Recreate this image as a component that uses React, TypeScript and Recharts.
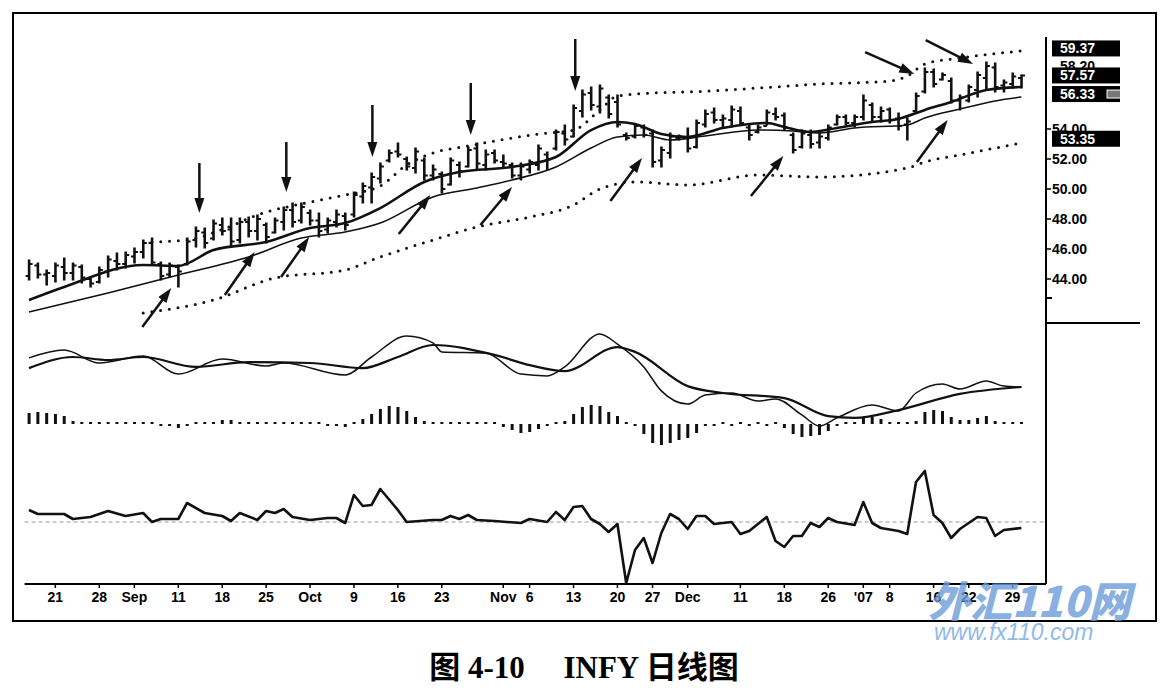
import React from 'react';
import { ComposedChart, Bar, Line, XAxis, YAxis, ReferenceLine } from 'recharts';

// INFY daily bars, 16 Aug 2006 .. 30 Jan 2007
const highs = [
  45.27, 45.07, 44.6, 45.07, 45.4, 45.07, 44.93, 44.07, 44.8, 45.53,
  45.73, 45.8, 46.07, 46.6, 46.73, 45.13, 45.07, 44.93, 46.73, 47.47,
  47.4, 47.93, 48.07, 48.07, 48.07, 48.13, 48.27, 47.73, 48.07, 48.8,
  49.07, 49.07, 48.6, 48.4, 48.07, 48.6, 48.4, 49.8, 50.4, 51.07,
  51.73, 52.6, 53.07, 52.13, 52.73, 52.07, 51.6, 51.13, 52.07, 51.8,
  52.8, 53.07, 52.6, 52.6, 52.27, 51.73, 51.73, 51.93, 52.93, 52.47,
  53.93, 54.27, 55.6, 56.6, 56.8, 56.93, 56.27, 56.27, 53.73, 54.27,
  54.27, 53.93, 52.8, 53.73, 53.6, 54.07, 54.6, 55.27, 55.4, 54.93,
  55.53, 55.47, 54.27, 54.27, 55.27, 55.4, 55.07, 53.73, 53.93, 53.93,
  53.8, 54.27, 54.93, 54.93, 54.93, 56.27, 55.73, 55.47, 55.4, 55.07,
  54.73, 56.4, 58.07, 58.0, 57.73, 57.4, 56.27, 56.93, 57.8, 58.47,
  58.4, 57.27, 57.73, 57.6,
];
const lows = [
  43.93, 44.07, 43.6, 43.8, 43.93, 43.93, 43.73, 43.47, 43.73, 44.13,
  44.6, 44.73, 45.07, 45.4, 44.93, 43.93, 44.13, 43.47, 44.93, 46.13,
  46.07, 46.6, 46.93, 46.13, 46.4, 46.8, 46.6, 46.4, 47.07, 47.27,
  47.47, 47.73, 47.6, 46.8, 47.07, 47.47, 47.27, 48.13, 49.07, 49.07,
  50.4, 51.8, 52.13, 51.27, 51.07, 50.6, 50.6, 49.73, 50.27, 50.8,
  51.47, 51.27, 51.27, 51.73, 51.47, 50.73, 50.6, 51.07, 51.27, 51.27,
  52.6, 52.93, 53.47, 54.8, 55.27, 55.07, 54.73, 54.13, 53.27, 53.4,
  53.47, 51.47, 51.47, 52.07, 53.27, 52.47, 52.73, 54.13, 54.4, 54.13,
  54.13, 54.27, 53.27, 53.73, 54.27, 54.6, 53.93, 52.4, 52.73, 52.73,
  52.73, 53.27, 54.27, 54.27, 54.13, 54.6, 54.47, 54.47, 54.4, 53.93,
  53.27, 55.07, 56.4, 56.8, 57.27, 55.73, 55.27, 55.8, 56.13, 56.6,
  56.47, 56.47, 56.73, 56.73,
];
const opens = [
  44.2, 44.9, 44.3, 44.2, 44.8, 44.4, 44.8, 44.0, 43.8, 44.5,
  45.2, 45.0, 45.5, 45.8, 46.4, 45.0, 44.3, 44.8, 45.0, 46.6,
  47.1, 46.7, 47.6, 47.3, 46.6, 47.8, 47.2, 47.6, 47.1, 47.8,
  48.6, 47.9, 48.4, 47.9, 47.3, 47.8, 48.2, 48.3, 49.5, 50.1,
  50.7, 51.9, 52.5, 52.0, 51.4, 51.9, 50.9, 51.0, 50.3, 51.6,
  51.5, 52.7, 51.6, 52.4, 51.8, 51.6, 50.9, 51.3, 51.6, 52.3,
  52.7, 53.7, 53.5, 55.2, 56.4, 55.5, 56.1, 55.8, 53.6, 53.5,
  54.1, 53.7, 51.9, 52.4, 53.4, 53.4, 52.8, 54.3, 55.1, 54.6,
  54.6, 55.2, 54.1, 53.8, 54.2, 55.0, 54.9, 53.6, 52.8, 53.6,
  53.1, 53.4, 54.3, 54.8, 54.4, 54.8, 55.6, 54.8, 55.3, 54.7,
  54.3, 55.2, 56.5, 57.8, 57.3, 57.2, 55.9, 55.9, 56.6, 57.4,
  58.1, 56.9, 57.0, 57.4,
];
const closes = [
  45.0, 44.3, 44.4, 44.9, 44.4, 44.9, 44.1, 43.7, 44.6, 45.3,
  45.0, 45.6, 45.8, 46.4, 45.1, 44.2, 44.9, 44.5, 46.5, 47.2,
  46.4, 47.7, 47.2, 46.5, 47.8, 47.2, 48.0, 46.8, 47.9, 48.6,
  47.8, 48.8, 47.9, 47.2, 47.9, 48.3, 47.6, 49.6, 50.2, 50.8,
  51.5, 52.4, 52.3, 51.5, 52.5, 50.9, 51.3, 50.0, 51.9, 51.2,
  52.6, 51.7, 52.3, 51.9, 51.7, 50.9, 51.5, 51.8, 52.7, 52.0,
  53.8, 53.3, 55.4, 56.3, 55.6, 56.7, 55.0, 54.3, 53.4, 54.2,
  53.6, 51.8, 52.6, 53.5, 53.5, 52.7, 54.4, 55.0, 54.6, 54.7,
  55.3, 54.4, 53.6, 54.1, 55.1, 54.8, 54.1, 52.6, 53.7, 53.0,
  53.5, 54.1, 54.8, 54.4, 54.8, 55.9, 54.8, 55.2, 54.6, 54.2,
  54.5, 56.2, 57.8, 57.0, 57.6, 55.9, 56.1, 56.8, 57.6, 58.2,
  56.8, 57.1, 57.5, 57.57,
];

// overlays, read at [day index, value]
const maFast = [
  [0, 42.6], [4, 43.47], [13, 44.93], [17, 44.87], [21, 45.93], [27, 46.47], [32, 47.4],
  [36, 47.73], [40, 48.73], [45, 50.47], [49, 51.13], [55, 51.47], [60, 52.13], [64, 53.93],
  [67, 54.47], [69, 54.33], [72, 53.67], [75, 53.47], [79, 54.07], [84, 54.4], [86, 54.13],
  [89, 53.8], [92, 54.07], [96, 54.47], [99, 54.67], [102, 55.27], [105, 55.8], [109, 56.6],
  [113, 56.8],
];
const maSlow = [
  [0, 41.8], [9, 43.07], [17, 44.27], [25, 45.47], [31, 46.73], [36, 47.13], [40, 47.73],
  [46, 49.47], [51, 50.07], [55, 50.6], [60, 51.47], [64, 52.73], [67, 53.47], [70, 53.6],
  [73, 53.27], [77, 53.53], [83, 53.93], [87, 53.87], [90, 53.73], [94, 54.07], [100, 54.27],
  [102, 54.73], [106, 55.33], [110, 55.87], [113, 56.13],
];
const bandUp = [
  [14, 46.47], [18, 46.6], [22, 47.3], [26, 48.27], [32, 49.13], [36, 49.6], [40, 50.2],
  [43, 51.6], [46, 52.4], [50, 52.87], [54, 53.3], [58, 53.67], [62, 53.93], [65, 55.27],
  [67, 56.2], [71, 56.4], [75, 56.47], [83, 56.73], [90, 57.0], [98, 57.2], [100, 57.53],
  [102, 58.33], [106, 58.73], [113, 59.2],
];
const bandLow = [
  [13, 41.73], [21, 42.6], [28, 44.07], [36, 44.6], [40, 45.47], [46, 46.6], [51, 47.47],
  [57, 48.13], [62, 48.93], [65, 50.0], [69, 50.47], [75, 50.27], [83, 50.93], [90, 50.8],
  [100, 51.4], [102, 51.8], [106, 52.27], [113, 53.07],
];
const macdLine = [
  [0, 1.07], [4, 1.33], [8, 0.9], [13, 1.13], [17, 0.53], [22, 1.03], [27, 0.8], [29, 0.9],
  [36, 0.5], [39, 1.1], [43, 1.8], [46, 1.57], [47, 1.27], [52, 1.23], [56, 0.53], [59, 0.47],
  [61, 0.77], [65, 1.87], [67, 1.53], [70, 0.77], [72, -0.03], [75, -0.47], [77, -0.17],
  [80, -0.1], [83, -0.37], [85, -0.3], [88, -0.83], [90, -1.2], [92, -0.93], [96, -0.5],
  [99, -0.7], [101, -0.1], [104, 0.2], [106, 0.03], [109, 0.3], [111, 0.13], [113, 0.1],
];
const macdSignal = [
  [0, 0.73], [5, 1.1], [9, 1.0], [13, 1.1], [19, 0.77], [25, 0.93], [32, 0.9], [38, 0.73],
  [42, 1.1], [46, 1.5], [53, 1.17], [57, 0.83], [61, 0.63], [67, 1.43], [69, 1.27], [75, 0.13],
  [79, -0.1], [86, -0.27], [91, -0.87], [94, -0.93], [99, -0.67], [106, -0.13], [113, 0.1],
];
const macdHist = [
  0.55, 0.6, 0.55, 0.5, 0.4, 0.15, 0.05, 0.05, 0.05, 0.05,
  0.05, 0.05, 0.05, 0.1, 0, -0.1, -0.1, -0.2, -0.1, 0.05,
  0.1, 0.1, 0.2, 0.2, 0.1, 0.05, 0.05, 0.05, 0, 0.05,
  0.05, 0.05, 0, 0.05, -0.05, -0.1, -0.15, 0.1, 0.25, 0.5,
  0.75, 0.9, 0.85, 0.65, 0.35, 0.15, 0.05, 0.05, 0.05, 0,
  0, 0.05, 0.05, 0.05, -0.15, -0.3, -0.45, -0.4, -0.25, -0.1,
  0, 0.15, 0.5, 0.85, 0.95, 0.9, 0.6, 0.4, 0.05, -0.1,
  -0.5, -0.95, -1.05, -0.95, -0.8, -0.7, -0.45, -0.05, -0.05, 0,
  -0.05, 0, -0.05, 0, -0.05, 0, -0.2, -0.5, -0.65, -0.6,
  -0.55, -0.35, -0.05, 0.05, 0.05, 0.3, 0.35, 0.25, 0.1, 0.05,
  0.05, 0.15, 0.6, 0.7, 0.65, 0.35, 0.2, 0.2, 0.3, 0.4,
  0.15, 0.05, 0.05, 0.05,
];
const oscLine = [
  [0, 1.2], [1, 0.8], [4, 0.8], [5, 0.3], [7, 0.5], [9, 1.1], [11, 0.6], [13, 0.9], [14, 0],
  [15, 0.3], [17, 0.3], [18, 1.9], [20, 0.9], [22, 0.6], [23, 0.1], [24, 0.9], [26, 0.2],
  [27, 1.1], [28, 0.9], [29, 1.3], [30, 0.5], [32, 0.2], [34, 0.4], [35, 0.4], [36, -0.1],
  [37, 2.7], [38, 1.6], [39, 1.7], [40, 3.3], [42, 1.2], [43, 0], [46, 0.2], [47, 0.2],
  [48, 0.6], [49, 0.3], [50, 0.7], [51, 0.2], [53, 0.1], [56, -0.1], [57, 0.3], [59, 0],
  [60, 1.0], [61, 0.2], [62, 1.5], [63, 1.6], [64, 0.3], [65, -0.2], [66, -1.0], [67, -0.2],
  [68, -6.1], [69, -2.8], [70, -1.6], [71, -4.1], [72, -1.1], [73, 0.8], [74, 0.3], [75, -0.7],
  [76, 0.6], [77, 0.6], [78, -0.2], [80, 0], [81, -1.2], [82, -0.9], [84, 0.5], [85, -1.9],
  [86, -2.5], [87, -1.4], [88, -1.4], [89, -0.1], [90, -0.5], [91, 0.4], [92, 0], [94, -0.3],
  [95, 2.0], [96, -0.1], [97, -0.6], [99, -0.9], [100, -1.2], [101, 4.0], [102, 5.1],
  [103, 0.7], [104, -0.1], [105, -1.6], [106, -0.7], [108, 0.5], [109, 0.4], [110, -1.4],
  [111, -0.8], [113, -0.6],
];

const tickDays = [3, 8, 12, 17, 22, 27, 32, 37, 42, 47, 54, 57, 62, 67, 71, 75, 81, 86, 91, 95, 98, 103, 107, 112];
const tickNames = ['21', '28', 'Sep', '11', '18', '25', 'Oct', '9', '16', '23', 'Nov', '6', '13', '20', '27', 'Dec', '11', '18', '26', "'07", '8', '16', '22', '29'];
const priceTicks = [44, 46, 48, 50, 52, 54];
const priceTags = [59.37, 58.2, 57.57, 56.33, 53.35];

// annotation arrows: [fromDay, fromPrice, toDay, toPrice]
const arrows = [
  [19.4, 51.73, 19.4, 48.4], [29.3, 53.13, 29.3, 49.8], [39.1, 55.6, 39.1, 52.13],
  [50.3, 57.07, 50.3, 53.6], [62.2, 60.0, 62.2, 56.53],
  [12.9, 40.8, 16.2, 43.4], [22.3, 42.93, 25.7, 45.8], [28.7, 44.13, 31.9, 46.8],
  [42.1, 47.0, 45.7, 49.6], [51.4, 47.6, 55.0, 50.13], [66.2, 49.2, 69.8, 52.07],
  [82.2, 49.53, 85.9, 52.2], [101.1, 51.8, 104.6, 54.6],
  [95.2, 59.13, 100.8, 57.67], [102.1, 59.93, 107.5, 58.33],
];

const lookup = (pts: number[][]) => {
  const m = new Map(pts.map(([i, v]) => [i, v]));
  return (i: number) => (m.has(i) ? m.get(i) : null);
};
const fFast = lookup(maFast);
const fSlow = lookup(maSlow);
const fUp = lookup(bandUp);
const fLow = lookup(bandLow);
const fMacd = lookup(macdLine);
const fSig = lookup(macdSignal);
const fOsc = lookup(oscLine);

const rows = highs.map((h, i) => ({
  i,
  hl: [lows[i], h],
  high: h,
  low: lows[i],
  open: opens[i],
  close: closes[i],
  maFast: fFast(i),
  maSlow: fSlow(i),
  up: fUp(i),
  lo: fLow(i),
  macd: fMacd(i),
  sig: fSig(i),
  hist: macdHist[i],
  osc: fOsc(i),
}));

const INK = '#111';
const axisFont = { fill: '#000', fontSize: 14, fontWeight: 700, fontFamily: '"Liberation Sans", Arial, sans-serif' };

const OhlcBar = (p: any) => {
  const { x, y, width, height, payload } = p;
  if (height == null || payload == null) return null;
  const cx = x + width / 2;
  const span = payload.high - payload.low || 1;
  const yo = y + ((payload.high - payload.open) / span) * height;
  const yc = y + ((payload.high - payload.close) / span) * height;
  return (
    <g stroke={INK} strokeWidth={2}>
      <line x1={cx} x2={cx} y1={y - 0.5} y2={y + height + 0.5} strokeWidth={2.6} />
      <line x1={cx - 3.5} x2={cx} y1={yo} y2={yo} />
      <line x1={cx} x2={cx + 3.5} y1={yc} y2={yc} />
    </g>
  );
};

const arrowShape = (p: any) => {
  const { x1, y1, x2, y2 } = p;
  const dx = x2 - x1;
  const dy = y2 - y1;
  const len = Math.hypot(dx, dy) || 1;
  const ux = dx / len;
  const uy = dy / len;
  const hl = 15;
  const hw = 5;
  const bx = x2 - ux * hl;
  const by = y2 - uy * hl;
  const pts = `${x2},${y2} ${bx - uy * hw},${by + ux * hw} ${bx + uy * hw},${by - ux * hw}`;
  return (
    <g>
      <line x1={x1} y1={y1} x2={bx + ux * 2} y2={by + uy * 2} stroke={INK} strokeWidth={2.5} />
      <polygon points={pts} fill={INK} />
    </g>
  );
};

const tagLabel = (k: number) => (props: any) => {
  const vb = props.viewBox || props;
  const x = vb.x + vb.width + 6;
  const y = vb.y;
  const text = priceTags[k].toFixed(2);
  if (k === 1) {
    return (
      <text x={x + 8} y={y + 5} fill="#000" style={axisFont}>
        {text}
      </text>
    );
  }
  return (
    <g>
      <rect x={x} y={y - 8} width={89} height={16} fill="#000" />
      <text x={x + 8} y={y + 5} fill="#fff" style={{ ...axisFont, fill: '#fff' }}>
        {text}
      </text>
      {k === 3 && <rect x={x + 55} y={y - 4} width={30} height={8} fill="#777" stroke="#fff" strokeWidth={1} />}
    </g>
  );
};

const INFYChart = () => (
  <div style={{ position: 'absolute', left: 0, top: 0, width: 1168, height: 696, background: '#fff', overflow: 'hidden' }}>
    <div style={{ position: 'absolute', left: 12, top: 12, width: 1145, height: 610, border: '2px solid #000', boxSizing: 'border-box' }} />
    <div style={{ position: 'absolute', left: 1046, top: 322, width: 94, height: 2, background: '#000' }} />
    <div style={{ position: 'absolute', left: 1046, top: 297, width: 6, height: 2, background: '#000' }} />
    <div style={{ position: 'absolute', left: 0, top: 0 }}>
      <ComposedChart width={1120} height={620} data={rows} margin={{ top: 37, right: 4, bottom: 6, left: 24.6 }}>
        <XAxis
          xAxisId="x"
          dataKey="i"
          type="number"
          domain={[-0.5, 115.8]}
          allowDataOverflow
          ticks={tickDays}
          interval={0}
          tickFormatter={(v: number) => tickNames[tickDays.indexOf(v)] ?? ''}
          tick={axisFont}
          tickSize={4}
          tickMargin={4}
          height={30}
          axisLine={{ stroke: '#000', strokeWidth: 2 }}
          tickLine={{ stroke: '#000', strokeWidth: 1.5 }}
        />
        <XAxis xAxisId="h" dataKey="i" type="number" domain={[-0.5, 115.8]} allowDataOverflow hide orientation="top" height={0} />
        <YAxis
          yAxisId="price"
          orientation="right"
          type="number"
          domain={[23.667, 60.133]}
          allowDataOverflow
          ticks={priceTicks}
          interval={0}
          tickFormatter={(v: number) => v.toFixed(2)}
          tick={axisFont}
          tickSize={5}
          tickMargin={1}
          width={70}
          axisLine={{ stroke: '#000', strokeWidth: 2 }}
          tickLine={{ stroke: '#000', strokeWidth: 1.5 }}
        />
        <YAxis yAxisId="macd" type="number" domain={[-6.467, 11.767]} allowDataOverflow hide width={0} />
        <YAxis yAxisId="hist" type="number" domain={[-8, 19.35]} allowDataOverflow hide width={0} />
        <YAxis yAxisId="osc" type="number" domain={[-6.2, 48.5]} allowDataOverflow hide width={0} />

        <ReferenceLine xAxisId="x" yAxisId="osc" y={0} stroke="#999" strokeDasharray="4 3" strokeWidth={1} />

        <Line xAxisId="x" yAxisId="price" dataKey="up" type="monotone" connectNulls stroke={INK} strokeWidth={3} strokeDasharray="0 8.8" strokeLinecap="round" dot={false} isAnimationActive={false} />
        <Line xAxisId="x" yAxisId="price" dataKey="lo" type="monotone" connectNulls stroke={INK} strokeWidth={3} strokeDasharray="0 8.8" strokeLinecap="round" dot={false} isAnimationActive={false} />
        <Line xAxisId="x" yAxisId="price" dataKey="maSlow" type="monotone" connectNulls stroke={INK} strokeWidth={1.6} dot={false} isAnimationActive={false} />
        <Line xAxisId="x" yAxisId="price" dataKey="maFast" type="monotone" connectNulls stroke={INK} strokeWidth={2.6} dot={false} isAnimationActive={false} />
        <Bar xAxisId="x" yAxisId="price" dataKey="hl" barSize={3} shape={OhlcBar} isAnimationActive={false} />

        <Line xAxisId="x" yAxisId="macd" dataKey="macd" type="monotone" connectNulls stroke={INK} strokeWidth={1.5} dot={false} isAnimationActive={false} />
        <Line xAxisId="x" yAxisId="macd" dataKey="sig" type="monotone" connectNulls stroke={INK} strokeWidth={2.2} dot={false} isAnimationActive={false} />
        <Bar xAxisId="h" yAxisId="hist" dataKey="hist" barSize={3} minPointSize={2} fill={INK} isAnimationActive={false} />

        <Line xAxisId="x" yAxisId="osc" dataKey="osc" type="linear" connectNulls stroke={INK} strokeWidth={2.6} strokeLinejoin="round" dot={false} isAnimationActive={false} />

        {arrows.map((a, k) => (
          <ReferenceLine
            key={`arrow-${k}`}
            xAxisId="x"
            yAxisId="price"
            segment={[{ x: a[0], y: a[1] }, { x: a[2], y: a[3] }]}
            shape={arrowShape}
            ifOverflow="visible"
          />
        ))}
        {priceTags.map((v, k) => (
          <ReferenceLine
            key={`tag-${k}`}
            xAxisId="x"
            yAxisId="price"
            y={v}
            stroke="none"
            ifOverflow="visible"
            label={tagLabel(k)}
          />
        ))}
      </ComposedChart>
    </div>
    <div
      style={{
        position: 'absolute', left: 928, top: 576, fontFamily: '"Noto Sans CJK SC", sans-serif', fontWeight: 900,
        fontStyle: 'italic', fontSize: 42, lineHeight: '46px', color: '#6d9ddb', opacity: 0.8, whiteSpace: 'nowrap',
      }}
    >
      外汇110网
    </div>
    <div
      style={{
        position: 'absolute', left: 934, top: 619, fontFamily: '"Liberation Sans", Arial, sans-serif',
        fontStyle: 'italic', fontSize: 23, lineHeight: '26px', color: '#7eaee2', opacity: 0.85, whiteSpace: 'nowrap',
      }}
    >
      www.fx110.com
    </div>
    <div
      style={{
        position: 'absolute', left: 0, top: 648, width: 1168, textAlign: 'center', fontSize: 31, lineHeight: '40px',
        fontWeight: 700, fontFamily: '"Liberation Serif", "Noto Sans CJK SC", serif', color: '#000', whiteSpace: 'pre',
      }}
    >
      {'图 4-10\u3000\u00a0INFY 日线图'}
    </div>
  </div>
);

export default function App() {
  return <INFYChart />;
}
